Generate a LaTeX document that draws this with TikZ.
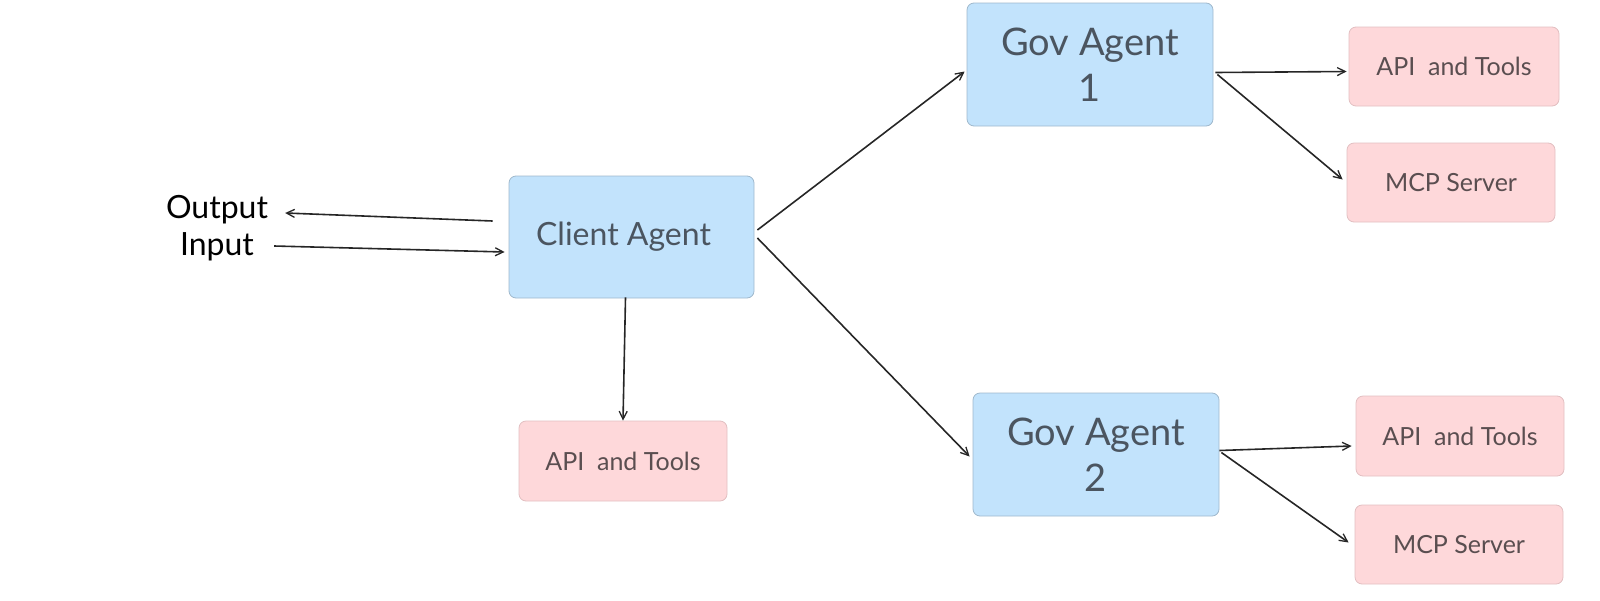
\documentclass[tikz,border=0pt]{standalone}
\usepackage{fontspec}
\setmainfont{Lato}
\usetikzlibrary{arrows.meta}
\definecolor{agentfill}{HTML}{C2E3FC}
\definecolor{agentdraw}{HTML}{9FB8CC}
\definecolor{toolfill}{HTML}{FED8DA}
\definecolor{tooldraw}{HTML}{E2BFC1}
\definecolor{boxtext}{HTML}{4B5560}
\definecolor{tooltext}{HTML}{5A4E50}
\tikzset{
  agent/.style={draw=agentdraw, fill=agentfill, rounded corners=7pt, line width=0.8pt,
    minimum width=245pt, minimum height=122pt, text=boxtext, align=center},
  tool/.style={draw=tooldraw, fill=toolfill, rounded corners=7pt, line width=0.8pt,
    minimum width=208pt, minimum height=79pt, text=tooltext, font=\fontsize{25}{30}\selectfont},
  io/.style={text=black, font=\fontsize{32}{36}\selectfont, inner sep=0pt},
  conn/.style={line width=1.6pt, draw=black!85, -{Straight Barb[length=8pt,width=8pt,line width=1.3pt]}}
}
\begin{document}
\begin{tikzpicture}[x=1pt,y=-1pt]
\useasboundingbox (0,0) rectangle (1600,600);
\node[agent, font=\fontsize{32}{36}\selectfont] (client) at (631.5,237) {Client Agent\hspace*{16pt}};
\node[agent, minimum width=246pt, minimum height=123pt, font=\fontsize{38}{46}\selectfont] (gov1) at (1090,64.5) {Gov Agent\\1};
\node[agent, minimum width=246pt, minimum height=123pt, font=\fontsize{38}{46}\selectfont] (gov2) at (1096,454.5) {Gov Agent\\2};
\node[tool, minimum width=210pt] (api1) at (1454,66.5) {API\ \ and Tools};
\node[tool] (mcp1) at (1451,182.5) {MCP Server};
\node[tool, minimum height=80pt] (api2) at (1460,436) {API\ \ and Tools};
\node[tool] (mcp2) at (1459,544.5) {MCP Server};
\node[tool, minimum height=80pt] (api0) at (623,461) {API\ \ and Tools};
\node[io] (output) at (217,210) {Output};
\node[io] (input) at (217,247) {Input};

\draw[conn] ([xshift=-16pt,yshift=16pt]client.west) -- ([xshift=17pt,yshift=-3pt]output.east);
\draw[conn] ([xshift=20pt,yshift=1pt]input.east) -- ([xshift=-4pt,yshift=-15pt]client.west);
\draw[conn] ([xshift=-6pt,yshift=1pt]client.south) -- (api0.north);
\draw[conn] ([xshift=3pt,yshift=7pt]client.east) -- ([xshift=-2pt,yshift=-7pt]gov1.west);
\draw[conn] ([xshift=3pt,yshift=-1pt]client.east) -- ([xshift=-3pt,yshift=-2pt]gov2.west);
\draw[conn] ([xshift=2pt,yshift=-8pt]gov1.east) -- ([xshift=-2pt,yshift=-5pt]api1.west);
\draw[conn] ([xshift=4pt,yshift=-10pt]gov1.east) -- ([xshift=-4pt,yshift=3pt]mcp1.west);
\draw[conn] ([xshift=0pt,yshift=4pt]gov2.east) -- ([xshift=-4pt,yshift=-10pt]api2.west);
\draw[conn] ([xshift=2pt,yshift=2pt]gov2.east) -- ([xshift=-6pt,yshift=2pt]mcp2.west);
\end{tikzpicture}
\end{document}
